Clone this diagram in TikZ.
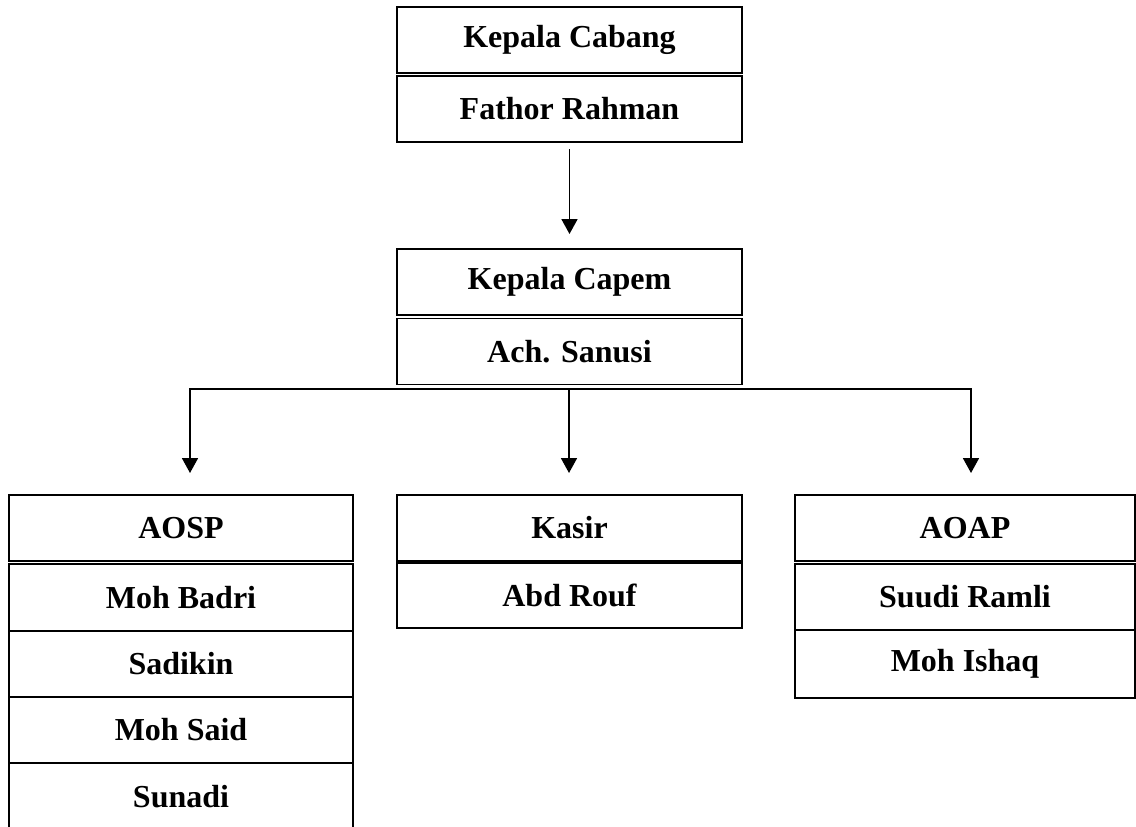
\documentclass[tikz,border=0pt]{standalone}
\usepackage{fontspec}
\setmainfont{Liberation Serif}
\usetikzlibrary{arrows.meta}
\tikzset{
  cell/.style={draw, line width=1.8pt, minimum height=66pt, inner sep=0pt, outer sep=0pt,
    font=\fontsize{32}{36}\selectfont\bfseries, anchor=center},
  arr/.style={line width=1.8pt, -{Triangle[width=16pt,length=15pt]}},
  ln/.style={line width=1.8pt}
}
\begin{document}
\begin{tikzpicture}[x=1pt,y=-1pt]
\useasboundingbox (0,0) rectangle (1136,827);
% top
\node[cell, minimum width=345pt] (kc1) at (569.5,40) {Kepala Cabang};
\node[cell, minimum width=345pt] (kc2) at (569.5,109) {Fathor Rahman};
\node[cell, minimum width=345pt] (cp1) at (569.5,282) {Kepala Capem};
\node[cell, minimum width=345pt] (cp2) at (569.5,351.5) {Ach. Sanusi};
% AOSP column
\node[cell, minimum width=344pt] (ao1) at (181,528) {AOSP};
\node[cell, minimum width=344pt, minimum height=67pt] (ao2) at (181,597.5) {Moh Badri};
\node[cell, minimum width=344pt] (ao3) at (181,664) {Sadikin};
\node[cell, minimum width=344pt] (ao4) at (181,730) {Moh Said};
\node[cell, minimum width=344pt, minimum height=67pt] (ao5) at (181,796.5) {Sunadi};
% Kasir column
\node[cell, minimum width=345pt] (ks1) at (569.5,528) {Kasir};
\node[cell, minimum width=345pt, minimum height=65pt] (ks2) at (569.5,595.5) {Abd Rouf};
% AOAP column
\node[cell, minimum width=340pt] (ap1) at (965,528) {AOAP};
\node[cell, minimum width=340pt] (ap2) at (965,597) {Suudi Ramli};
\node[cell, minimum width=340pt, minimum height=68pt] (ap3) at (965,664) {Moh Ishaq};
% connectors
\draw[arr, shorten <=7pt, shorten >=15pt] (kc2.south) -- (cp1.north);
\coordinate (jC) at (569,389);
\coordinate (jL) at (190,389);
\coordinate (jR) at (971,389);
\draw[ln, line cap=rect] (jL) -- (jR);
\draw[arr, shorten >=22pt] (jL) -- (ao1.north -| jL);
\draw[arr, shorten >=22pt] (jC) -- (ks1.north -| jC);
\draw[arr, shorten >=22pt] (jR) -- (ap1.north -| jR);
\end{tikzpicture}
\end{document}
